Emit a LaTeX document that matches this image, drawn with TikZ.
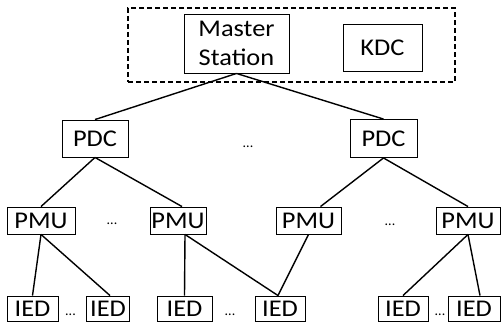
\documentclass[tikz,border=0pt]{standalone}
\usepackage{fontspec}
\setmainfont{Carlito}
\newfontfamily\widefont[FakeStretch=1.1]{Carlito}

\tikzset{
  box/.style={draw, line width=0.9pt, inner sep=0pt, align=center,
              font=\widefont\fontsize{24}{29}\selectfont},
  link/.style={line width=1.4pt},
  group/.style={draw, dash pattern=on 5pt off 3pt, line width=1.2pt},
  more/.style={font=\fontsize{14}{14}\selectfont, anchor=base, inner sep=0pt},
}

\begin{document}
\begin{tikzpicture}[x=1pt,y=-1pt]
\useasboundingbox (0,0) rectangle (501,324);

% control centre group
\node[group, minimum width=327pt, minimum height=74pt] (core) at (291.5,45) {};
\node[box, minimum width=105pt, minimum height=59pt] (master) at (236.5,43.5) {Master\\Station};
\node[box, minimum width=79pt, minimum height=47pt] (kdc) at (382.5,47.5) {KDC};

% data concentrators
\node[box, minimum width=66pt, minimum height=37pt] (pdc1) at (95,138.5) {PDC};
\node[box, minimum width=67pt, minimum height=38pt] (pdc2) at (383.5,138.5) {PDC};

% measurement units
\node[box, minimum width=68pt, minimum height=27pt] (pmu1) at (41,220.5) {PMU};
\node[box, minimum width=56pt, minimum height=27pt] (pmu2) at (178,220.5) {PMU};
\node[box, minimum width=65pt, minimum height=27pt] (pmu3) at (308.5,220.5) {PMU};
\node[box, minimum width=64pt, minimum height=27pt] (pmu4) at (468,220.5) {PMU};

% field devices
\node[box, minimum width=51pt, minimum height=25pt] (ied1) at (32.5,308.5) {IED};
\node[box, minimum width=43pt, minimum height=25pt] (ied2) at (108,308.5) {IED};
\node[box, minimum width=55pt, minimum height=25pt] (ied3) at (184.5,308.5) {IED};
\node[box, minimum width=50pt, minimum height=25pt] (ied4) at (280,308.5) {IED};
\node[box, minimum width=50pt, minimum height=25pt] (ied5) at (403,308.5) {IED};
\node[box, minimum width=52pt, minimum height=25pt] (ied6) at (474,308.5) {IED};

% ellipses
\node[more] (dots1) at (248,147) {...};
\node[more] (dots2) at (112,224) {...};
\node[more] (dots3) at (390,225) {...};
\node[more] (dots4) at (70.5,315) {...};
\node[more] (dots5) at (230,315) {...};
\node[more] (dots6) at (440,315) {...};

% links
\draw[link] (master.south) -- (pdc1.north);
\draw[link] (master.south) -- (pdc2.north);
\draw[link] (pdc1.south) -- (pmu1.north);
\draw[link] (pdc1.south) -- ([xshift=4pt]pmu2.north);
\draw[link] (pdc2.south) -- ([xshift=12pt]pmu3.north);
\draw[link] (pdc2.south) -- (pmu4.north);
\draw[link] (pmu1.south) -- (ied1.north);
\draw[link] (pmu1.south) -- ([xshift=2pt]ied2.north);
\draw[link] ([xshift=7pt]pmu2.south) -- (ied3.north);
\draw[link] ([xshift=7pt]pmu2.south) -- ([xshift=-2pt]ied4.north);
\draw[link] (pmu3.south) -- ([xshift=-2pt]ied4.north);
\draw[link] (pmu4.south) -- (ied5.north);
\draw[link] (pmu4.south) -- ([xshift=6pt]ied6.north);
\end{tikzpicture}
\end{document}
